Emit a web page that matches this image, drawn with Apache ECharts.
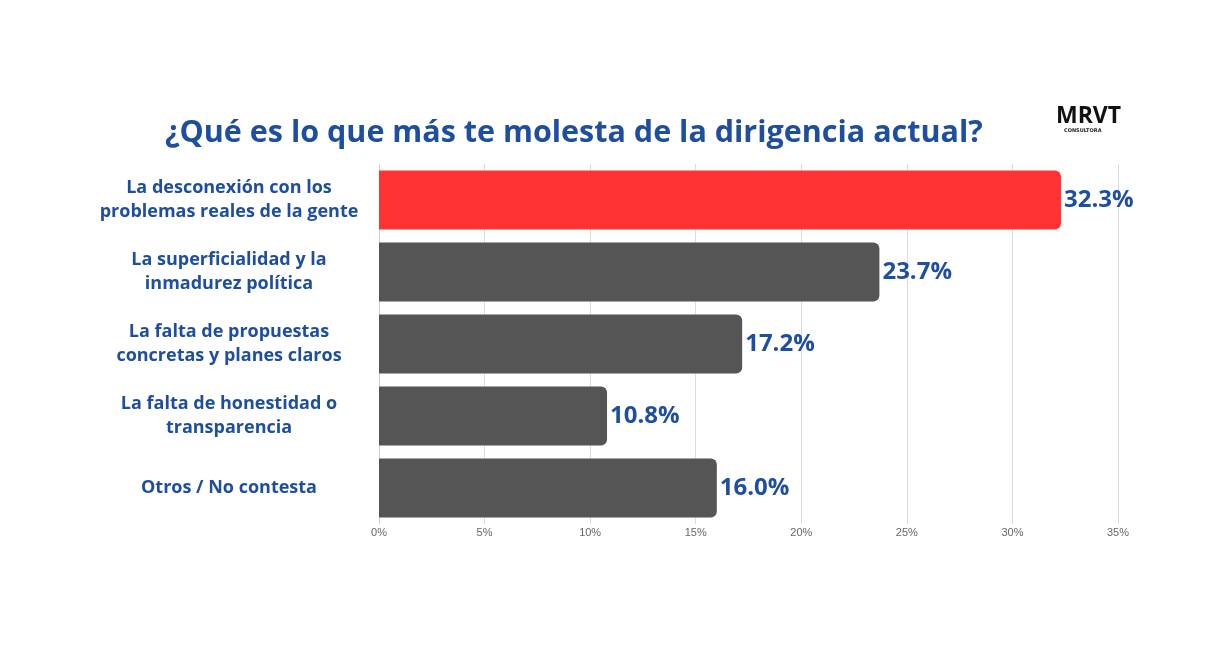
<!DOCTYPE html>
<html>
<head>
<meta charset="utf-8">
<script src="https://cdn.jsdelivr.net/npm/echarts@6/dist/echarts.min.js"></script>
<style>
  html, body { margin: 0; padding: 0; background: #fff; }
  #chart { width: 1220px; height: 661px; }
</style>
</head>
<body>
<div id="chart"></div>
<script>
var categories = [
    'La desconexión con los\nproblemas reales de la gente',
    'La superficialidad y la\ninmadurez política',
    'La falta de propuestas\nconcretas y planes claros',
    'La falta de honestidad o\ntransparencia',
    'Otros / No contesta'
];
var values = [32.3, 23.7, 17.2, 10.8, 16.0];
var barColors = ['#ff3333', '#555555', '#555555', '#555555', '#555555'];

var blue = '#1d4e9f';

var option = {
    backgroundColor: '#fff',
    title: {
        text: '¿Qué es lo que más te molesta de la dirigencia actual?',
        left: 160,
        top: 113,
        textStyle: {
            color: blue,
            fontFamily: 'Open Sans',
            fontWeight: 'bold',
            fontSize: 30.5
        }
    },
    graphic: [
        {
            type: 'text',
            left: 1056,
            top: 105,
            style: {
                text: 'MRVT',
                fill: '#111',
                font: 'bold 23px "Open Sans"'
            }
        },
        {
            type: 'text',
            left: 1064,
            top: 128,
            style: {
                text: 'CONSULTORA',
                fill: '#222',
                font: 'bold 5px "DejaVu Sans"'
            }
        }
    ],
    grid: {
        left: 379,
        right: 102,
        top: 164,
        bottom: 137
    },
    xAxis: {
        type: 'value',
        min: 0,
        max: 35,
        interval: 5,
        axisLine: { show: false },
        axisTick: { show: false },
        splitLine: { lineStyle: { color: '#dcdcdc' } },
        axisLabel: {
            formatter: '{value}%',
            color: '#666',
            fontSize: 11,
            fontFamily: 'Liberation Sans Narrow, Liberation Sans',
            margin: 3
        }
    },
    yAxis: {
        type: 'category',
        inverse: true,
        data: categories,
        axisLine: { show: true, lineStyle: { color: '#d0d0d0' } },
        axisTick: { show: false },
        axisLabel: {
            color: blue,
            fontFamily: 'Open Sans',
            fontWeight: 'bold',
            fontSize: 18,
            lineHeight: 24,
            align: 'center',
            margin: 150
        }
    },
    series: [{
        type: 'bar',
        data: values.map(function (v, i) {
            return { value: v, itemStyle: { color: barColors[i] } };
        }),
        barWidth: 59,
        itemStyle: { borderRadius: [0, 6, 6, 0] },
        label: {
            show: true,
            position: 'right',
            distance: 3,
            formatter: function (p) { return p.value.toFixed(1) + '%'; },
            color: blue,
            fontFamily: 'Open Sans',
            fontWeight: 'bold',
            fontSize: 24
        }
    }]
};

var myChart = echarts.init(document.getElementById('chart'));
myChart.setOption(option);
</script>
</body>
</html>
